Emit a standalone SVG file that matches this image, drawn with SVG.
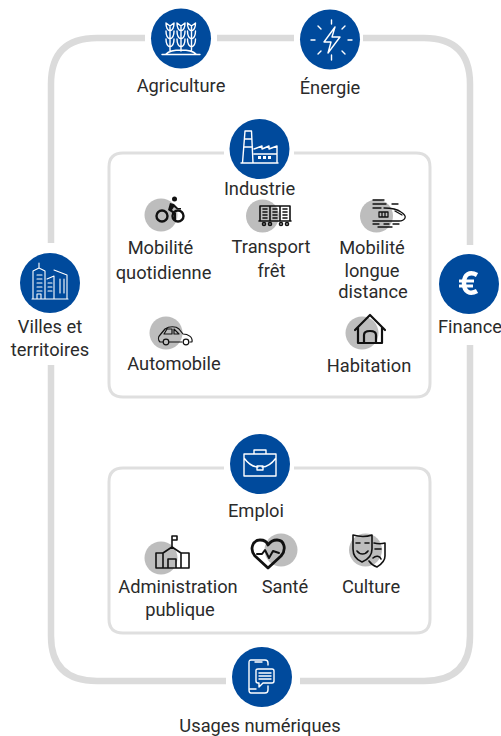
<svg xmlns="http://www.w3.org/2000/svg" width="501" height="736" viewBox="0 0 501 736">
<style>
text{font-family:Roboto,"Noto Sans","Liberation Sans",sans-serif;font-size:18.300px;fill:#2b2b2b;text-anchor:middle}
.c{fill:#004a9c}
.w{fill:none;stroke:#fff;stroke-width:1.400;stroke-linejoin:round;stroke-linecap:round}
.k{fill:none;stroke:#111;stroke-width:1.600;stroke-linejoin:round;stroke-linecap:round}
.g{fill:#bdbdbd}
.o{fill:none;stroke:#dbdbdb;stroke-width:6.500}
.i{fill:none;stroke:#dfdfdf;stroke-width:3}
</style>
<g id="connectors">
<path class="o" d="M145 38H97Q51 38 51 84V243"/>
<path class="o" d="M217 38H294"/>
<path class="o" d="M363 38H424Q470 38 470 84V245"/>
<path class="o" d="M51 365V636Q51 681 97 681H226"/>
<path class="o" d="M470 345V636Q470 681 424 681H300"/>
<path class="i" d="M224 153H123Q109 153 109 167V383Q109 397 123 397H416Q430 397 430 383V167Q430 153 416 153H294"/>
<path class="i" d="M224 468H123Q109 468 109 482V619Q109 633 123 633H416Q430 633 430 619V482Q430 468 416 468H294"/>
</g>
<g id="agriculture">
<circle class="c" cx="181" cy="38.500" r="30"/>
<path class="w" d="M170 27v24M181 27v24M191.500 27v24M166 23c0 5 1 7 4 8c3-1 4-3 4-8l-4 3zM166 31c0 5 1 7 4 8c3-1 4-3 4-8M166 39c0 5 1 7 4 8c3-1 4-3 4-8M177 23c0 5 1 7 4 8c3-1 4-3 4-8l-4 3zM177 31c0 5 1 7 4 8c3-1 4-3 4-8M177 39c0 5 1 7 4 8c3-1 4-3 4-8M187.500 23c0 5 1 7 4 8c3-1 4-3 4-8l-4 3zM187.500 31c0 5 1 7 4 8c3-1 4-3 4-8M187.500 39c0 5 1 7 4 8c3-1 4-3 4-8M162 54.500H200M166 54c3-3 8-4 15-4c7 0 12 1 15 4"/>
<text x="181" y="92">Agriculture</text>
</g>
<g id="energie">
<circle class="c" cx="330" cy="39.500" r="30"/>
<path class="w" d="M335 27L324 42H331L328 53L340 37H332zM331.500 20v4M331.500 55v5M311 40h4M348 40h4M318 26l3 3M345 26l-3 3M318 54l3-3M345 54l-3-3"/>
<text x="330" y="94">Énergie</text>
</g>
<g id="industrie">
<circle class="c" cx="259.500" cy="149" r="30"/>
<path class="w" d="M241 163H278M242.500 163L245 131H251.500L253 163M245 139h7M244.500 147h8M254 149L262 146V149L269 146V149L277 146V162M254 154H277"/>
<path fill="#fff" d="M258 156h3v3h-3zM263 156h3v3h-3zM268 156h3v3h-3z"/>
<text x="259.500" y="195">Industrie</text>
</g>
<g id="mobilite-quotidienne">
<circle class="g" cx="161" cy="215" r="16.500"/>
<circle class="k" style="stroke-width:2.400" cx="162" cy="216" r="5.500"/>
<circle class="k" style="stroke-width:2.400" cx="178" cy="216" r="5.500"/>
<circle cx="174.500" cy="199" r="2.500" fill="#111"/>
<path d="M170 203L174 204L178 208H181V209.500H177L174 207L172 210L176 213V220H174V214L168 210Z" fill="#111"/>
<text x="160.500" y="254">Mobilité</text>
<text x="163.500" y="279">quotidienne</text>
</g>
<g id="transport-fret">
<circle class="g" cx="262.500" cy="216" r="16.500"/>
<path class="k" d="M260 206H290V221H260zM270 206V221M280 206V221M263 209h4M263 212h4M263 215h4M263 218h4M273 209h4M273 212h4M273 215h4M273 218h4M283 209h4M283 212h4M283 215h4M283 218h4M259 221H291"/>
<circle class="k" cx="264" cy="224" r="1.500"/><circle class="k" cx="270" cy="224" r="1.500"/><circle class="k" cx="281" cy="224" r="1.500"/><circle class="k" cx="287" cy="224" r="1.500"/>
<text x="271" y="253">Transport</text>
<text x="271.500" y="277">frêt</text>
</g>
<g id="mobilite-longue-distance">
<circle class="g" cx="376.500" cy="216" r="16.500"/>
<path class="k" style="stroke-width:1.300" d="M384 208C392 208 397 209 401 212C404 214 406 216 405 218C404 220 402 221 399 221H373M392 204h6M373 200h11M373 204h13M373 208h8M373 224h6M384 224h5M393 224h6M378 227h14"/>
<path class="k" style="stroke-width:1.300" d="M379 212h9v5h-9zM382 212v5M385 212v5M395 211L402 215"/>
<text x="372" y="254">Mobilité</text>
<text x="372" y="277">longue</text>
<text x="373" y="298">distance</text>
</g>
<g id="automobile">
<circle class="g" cx="166" cy="333" r="16.500"/>
<path class="k" style="stroke-width:1.200" d="M163 342H160C158 340 158 337 160 335L165 329C169 326 176 326 179 329L183 334C188 334 193 337 192 342H190M169 342H182M164 334L167 329H172V334ZM174 329L179 334H174Z"/>
<circle class="k" style="stroke-width:1.200" cx="166" cy="342" r="2.800"/><circle class="k" style="stroke-width:1.200" cx="186" cy="342" r="2.800"/>
<text x="174" y="370">Automobile</text>
</g>
<g id="habitation">
<circle class="g" cx="362" cy="333" r="16.500"/>
<path class="k" style="stroke-width:2.200" d="M355 330L370 315L385 330M358 327V343H382V327M364 343V335C364 332 366 331 370 331C374 331 376 332 376 335V343"/>
<text x="369" y="372">Habitation</text>
</g>
<g id="villes">
<circle class="c" cx="50" cy="283" r="30"/>
<path class="w" style="stroke-width:1.100" d="M32 299H68M33 299V271L39 268L45 271V299M39 268V263M47 279L54 276V299M54 270L67 275V299M60 279V293M64 279V293M48 283H52M48 287H52M48 291H52M37 275H42M37 279H42M37 283H42M37 287H42M37 291H42M37 299V294H41V299"/>
<text x="50" y="333">Villes et</text>
<text x="50" y="356">territoires</text>
</g>
<g id="finance">
<circle class="c" cx="469" cy="284" r="30"/>
<path d="M477 275C470 271 464 274 464 283C464 292 470 295 477 291" fill="none" stroke="#fff" stroke-width="4.500"/>
<path d="M459 281H474M459 286H473" fill="none" stroke="#fff" stroke-width="2.800"/>
<text x="470" y="333">Finance</text>
</g>
<g id="emploi">
<circle class="c" cx="260" cy="464" r="30"/>
<path class="w" d="M244 454H276V476H244zM254 454V450H266V454M244 458C250 466 254 467 258 467M276 458C270 466 266 467 262 467"/>
<path class="w" d="M257 466H263V470H257z"/>
<text x="256" y="517">Emploi</text>
</g>
<g id="administration">
<circle class="g" cx="161" cy="558" r="16.500"/>
<path class="k" d="M156 568V553H163M163 568V553L172 547L181 553V568M181 553H189V568M156 568H189M168 568V559H176V568M172 547V536M172 536H177V540H172"/>
<text x="178" y="593">Administration</text>
<text x="180" y="616">publique</text>
</g>
<g id="sante">
<circle class="g" cx="281" cy="550" r="16.500"/>
<path class="k" style="stroke-width:2.800" d="M268 568L255 556C249 549 253 540 260 540C264 540 267 542 268 545C270 542 273 540 277 540C284 540 287 549 281 556Z"/>
<path class="k" style="stroke-width:2" d="M257 554H262L265 550L269 558L273 551L279 553"/>
<text x="285" y="593">Santé</text>
</g>
<g id="culture">
<circle class="g" cx="365.500" cy="550" r="16.500"/>
<path class="k" d="M353 535C360 537 366 537 372 535V549C372 556 367 560 362 562C357 560 353 556 353 549ZM374 543C378 544 381 544 385 543V556C385 562 380 565 377 567C374 566 371 564 369 561"/>
<path class="k" d="M356 543H360M365 543H369M357 551C360 555 365 555 368 551M375 549H381M373 558C376 555 380 556 381 559"/>
<text x="371" y="593">Culture</text>
</g>
<g id="usages">
<circle class="c" cx="262" cy="677" r="30"/>
<path class="w" d="M268 665V663C268 661 267 660 265 660H251C249 660 249 661 249 663V690C249 692 250 693 251 693H265C267 693 268 692 268 690V686M255 662H262M250 689H256"/>
<path class="w" d="M256 670C256 669 257 669 258 669H272C273 669 274 670 274 671V681C274 682 273 683 272 683H263L259 687V683H258C257 683 256 682 256 681ZM259 673H271M259 676H271M259 679H271"/>
<text x="260" y="732">Usages numériques</text>
</g>
</svg>
